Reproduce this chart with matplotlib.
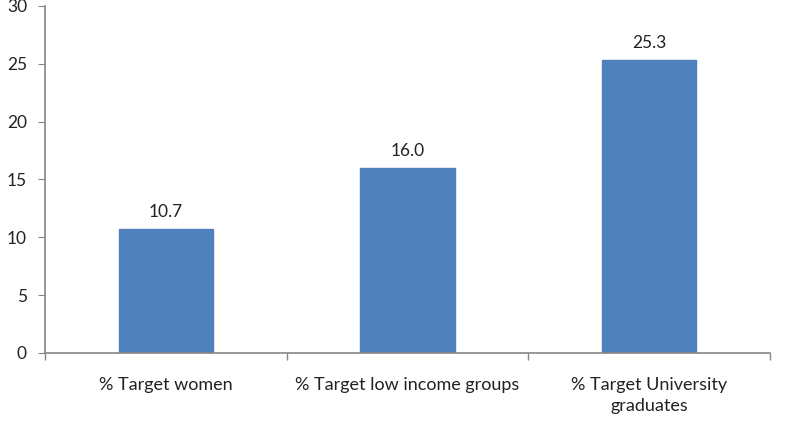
import numpy as np
import matplotlib.pyplot as plt

plt.rcParams['font.family'] = ['Lato', 'DejaVu Sans']

categories = ['% Target women', '% Target low income groups', '% Target University\ngraduates']
values = [10.7, 16.0, 25.3]

fig = plt.figure(figsize=(7.87, 4.47), dpi=100)
ax = fig.add_axes([0.0572, 0.2103, 0.9212, 0.7763])

x = np.arange(len(categories))
bars = ax.bar(x, values, width=0.39, color='#4F81BD', edgecolor='#4F81BD')

for b, v in zip(bars, values):
    ax.text(b.get_x() + b.get_width() / 2, v + 0.8, f'{v:.1f}',
            ha='center', va='bottom', fontsize=12.5, color='#222222')

ax.set_xlim(-0.5, len(categories) - 0.5)
ax.set_ylim(0, 30)
ax.set_yticks(range(0, 31, 5))

# category ticks sit between the bars
ax.set_xticks(x)
ax.set_xticklabels(categories, fontsize=13, color='#222222', linespacing=1.45)
ax.tick_params(axis='x', length=0, pad=17)
ax.set_xticks(np.arange(-0.5, len(categories)), minor=True)
ax.tick_params(axis='x', which='minor', length=5, color='#868686', width=1)
ax.tick_params(axis='y', length=5, color='#868686', labelsize=12.5, labelcolor='#222222', pad=8)

for s in ['top', 'right']:
    ax.spines[s].set_visible(False)
for s in ['left', 'bottom']:
    ax.spines[s].set_color('#868686')
    ax.spines[s].set_linewidth(1.2)

plt.savefig('out.png', dpi=100)
